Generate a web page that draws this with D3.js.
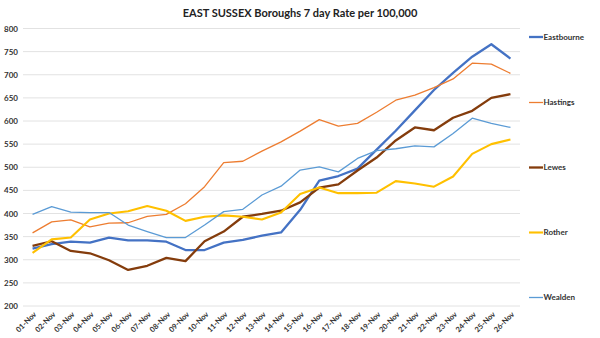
<!DOCTYPE html>
<html>
<head>
<meta charset="utf-8">
<script src="https://cdn.jsdelivr.net/npm/d3@7.9.0/dist/d3.min.js"></script>
<style>
  html, body { margin: 0; padding: 0; background: #fff; }
  svg { display: block; font-family: Lato, "Open Sans", sans-serif; }
</style>
</head>
<body>
<svg id="chart" width="600" height="338"></svg>
<script>
// Rates per 100,000 over rolling 7 days, 1-26 November
const days = ["01-Nov", "02-Nov", "03-Nov", "04-Nov", "05-Nov", "06-Nov", "07-Nov", "08-Nov",
  "09-Nov", "10-Nov", "11-Nov", "12-Nov", "13-Nov", "14-Nov", "15-Nov", "16-Nov", "17-Nov",
  "18-Nov", "19-Nov", "20-Nov", "21-Nov", "22-Nov", "23-Nov", "24-Nov", "25-Nov", "26-Nov"];

const eastbourne = [324, 334, 339, 337, 348, 342, 342, 339, 321, 321, 337, 343, 352, 359, 408, 471, 481, 497, 538, 579, 623, 667, 704, 739, 766, 735];
const hastings = [358, 382, 386, 371, 379, 380, 394, 398, 421, 458, 510, 513, 535, 555, 578, 603, 589, 595, 619, 645, 656, 672, 691, 725, 723, 703];
const lewes = [330, 340, 319, 314, 299, 278, 287, 304, 297, 340, 361, 393, 399, 406, 424, 456, 463, 493, 521, 558, 586, 580, 607, 622, 650, 658];
const rother = [315, 344, 348, 387, 400, 405, 416, 406, 384, 393, 396, 393, 387, 402, 442, 456, 444, 444, 445, 470, 465, 458, 480, 529, 550, 560];
const wealden = [398, 415, 403, 402, 402, 375, 361, 348, 348, 375, 404, 409, 440, 459, 494, 501, 490, 519, 536, 540, 546, 544, 573, 606, 595, 586];

const yTicks = [200, 250, 300, 350, 400, 450, 500, 550, 600, 650, 700, 750, 800];

const series = [
  { name: "Eastbourne", values: eastbourne, color: "#4472C4", width: 2.3 },
  { name: "Hastings", values: hastings, color: "#ED7D31", width: 1.3 },
  { name: "Lewes", values: lewes, color: "#843C0C", width: 2.3 },
  { name: "Rother", values: rother, color: "#FFC000", width: 2.1 },
  { name: "Wealden", values: wealden, color: "#5B9BD5", width: 1.3 }
];

const svg = d3.select("#chart");
const plotLeft = 23, plotRight = 520, plotTop = 28.5, plotBottom = 306;

const x = d3.scalePoint().domain(days).range([plotLeft, plotRight]).padding(0.5);
const y = d3.scaleLinear().domain([200, 800]).range([plotBottom, plotTop]);

// title
svg.append("text")
  .attr("x", 300).attr("y", 17)
  .attr("text-anchor", "middle")
  .attr("font-size", 11).attr("font-weight", "bold")
  .attr("fill", "#222")
  .text("EAST SUSSEX Boroughs 7 day Rate per 100,000");

// gridlines
svg.append("g")
  .selectAll("line")
  .data(yTicks)
  .join("line")
  .attr("x1", plotLeft).attr("x2", plotRight)
  .attr("y1", d => y(d)).attr("y2", d => y(d))
  .attr("stroke", "#e2e2e2").attr("stroke-width", 1);

// y axis labels
const yAxis = svg.append("g")
  .attr("transform", `translate(${plotLeft},0)`)
  .call(d3.axisLeft(y).tickValues(yTicks).tickSize(0).tickPadding(5));
yAxis.select(".domain").remove();
yAxis.selectAll("text")
  .attr("font-size", 8).attr("font-weight", "bold")
  .attr("fill", "#333")
  .attr("font-family", "Lato, sans-serif");

// x axis labels, rotated
const xAxis = svg.append("g")
  .attr("transform", `translate(0,${plotBottom})`)
  .call(d3.axisBottom(x).tickSize(0).tickPadding(0));
xAxis.select(".domain").remove();
xAxis.selectAll("text")
  .attr("font-size", 7.5).attr("font-weight", "bold")
  .attr("fill", "#333")
  .attr("font-family", "Lato, sans-serif")
  .attr("text-anchor", "end")
  .attr("dy", "0.35em")
  .attr("transform", "translate(2,7) rotate(-45)");

// lines
const line = d3.line()
  .x((d, i) => x(days[i]))
  .y(d => y(d));

svg.append("g")
  .selectAll("path")
  .data(series)
  .join("path")
  .attr("d", d => line(d.values))
  .attr("fill", "none")
  .attr("stroke", d => d.color)
  .attr("stroke-width", d => d.width)
  .attr("stroke-linejoin", "round");

// legend
const legendY = [37, 102.5, 167.5, 232.5, 297.5];
const legend = svg.append("g")
  .selectAll("g")
  .data(series)
  .join("g")
  .attr("transform", (d, i) => `translate(529,${legendY[i]})`);

legend.append("line")
  .attr("x1", 0).attr("x2", 14)
  .attr("stroke", d => d.color)
  .attr("stroke-width", d => d.width);

legend.append("text")
  .attr("x", 14.5).attr("dy", "0.35em")
  .attr("font-size", 8).attr("font-weight", "bold")
  .attr("fill", "#333")
  .text(d => d.name);
</script>
</body>
</html>
